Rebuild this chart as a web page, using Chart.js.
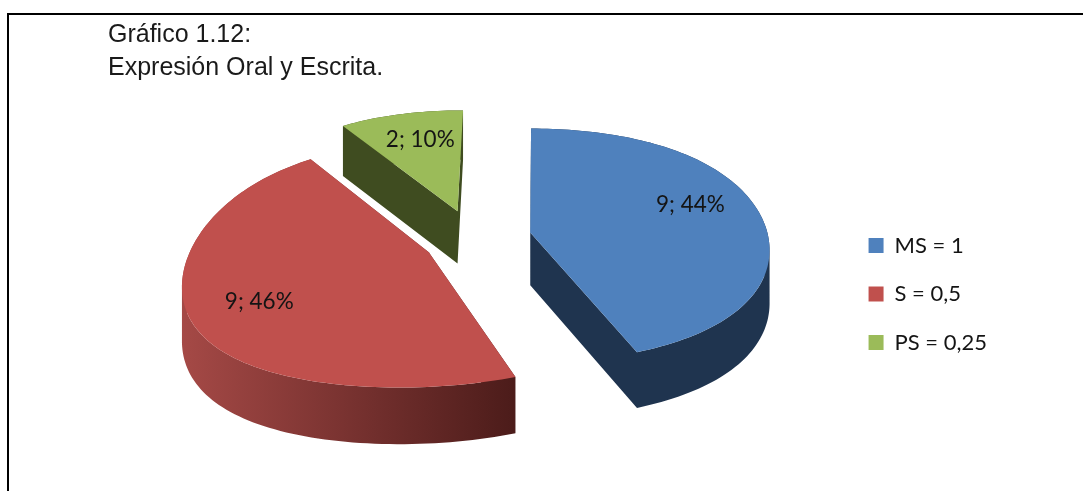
<!DOCTYPE html>
<html lang="es">
<head>
<meta charset="utf-8">
<script src="https://cdn.jsdelivr.net/npm/chart.js@4"></script>
<style>
html,body{margin:0;padding:0;background:#fff;overflow:hidden}
#wrap{position:absolute;left:0;top:0;width:1083px;height:491px}
#frame{position:absolute;left:7px;top:13px;width:1090px;height:490px;border:2.5px solid #000;box-sizing:border-box}
canvas{position:absolute;left:0;top:0}
</style>
</head>
<body>
<div id="wrap">
<div id="frame"></div>
<canvas id="c" width="1083" height="491"></canvas>
</div>
<script>
const categories = ['MS = 1', 'S = 0,5', 'PS = 0,25'];
const seriesValues = [8.75, 9.25, 2];
const titleLines = ['Gráfico 1.12:', 'Expresión Oral y Escrita.'];
const topColors = ['#4f81bd', '#c0504d', '#9bbb59'];
const wallColors = ['#1f344f', null, '#3f4c20'];

const view = {cx: 478, vx: 541, cy: 238, rx: 241, depth: 53, pd: 0.06, explode: 0.225};
const radiusV = [0.95, 0.97, 1];
const radiusU = [0.99, 0.975, 0.93];
const nudgeX = [-1, 0, -6];
const project = (u, v, drop, dx) => {
  const wx = 1 + 0.15 * v - 0.05 * v * v;
  const f = 128 * v - 14 * v * v - 4 * v * v * v;
  return {
    x: view.vx + (view.rx * u + view.cx - view.vx) / wx + (dx || 0),
    y: view.cy - f + (drop ? view.depth / (1 + view.pd * v) : 0)
  };
};

const pie3d = {
  id: 'pie3d',
  beforeDatasetsDraw(chart) {
    const ctx = chart.ctx;
    const meta = chart.getDatasetMeta(0);
    const order = [2, 1, 0];
    const redGrad = ctx.createLinearGradient(182, 0, 514, 0);
    redGrad.addColorStop(0, '#a54946');
    redGrad.addColorStop(0.55, '#74302e');
    redGrad.addColorStop(1, '#4c1c1a');
    order.forEach(i => {
      const arc = meta.data[i];
      const start = arc.startAngle + Math.PI / 2;
      const end = arc.endAngle + Math.PI / 2;
      const mid = (start + end) / 2;
      const ou = view.explode * Math.sin(mid), ov = view.explode * Math.cos(mid);
      const outline = [[ou, ov]];
      const steps = Math.max(8, Math.round((end - start) * 40));
      for (let k = 0; k <= steps; k++) {
        const a = start + (end - start) * k / steps;
        outline.push([ou + radiusU[i] * Math.sin(a), ov + radiusV[i] * Math.cos(a)]);
      }
      ctx.fillStyle = i === 1 ? redGrad : wallColors[i];
      ctx.beginPath();
      for (let k = 0; k < outline.length; k++) {
        const p = outline[k], q = outline[(k + 1) % outline.length];
        let quad = [project(p[0], p[1], false, nudgeX[i]), project(q[0], q[1], false, nudgeX[i]),
                    project(q[0], q[1], true, nudgeX[i]), project(p[0], p[1], true, nudgeX[i])];
        let area = 0;
        quad.forEach((s, n) => {
          const e = quad[(n + 1) % 4];
          area += s.x * e.y - e.x * s.y;
        });
        if (area < 0) quad = quad.reverse();
        quad.forEach((s, n) => n ? ctx.lineTo(s.x, s.y) : ctx.moveTo(s.x, s.y));
        ctx.closePath();
      }
      ctx.fill('nonzero');
      ctx.fillStyle = topColors[i];
      ctx.beginPath();
      outline.forEach((p, k) => {
        const t = project(p[0], p[1], false, nudgeX[i]);
        if (k) ctx.lineTo(t.x, t.y); else ctx.moveTo(t.x, t.y);
      });
      ctx.closePath(); ctx.fill();
    });
    return false;
  },
  afterDraw(chart) {
    const ctx = chart.ctx;
    const total = seriesValues.reduce((s, v) => s + v, 0);
    const spots = [[0.904, 0.27], [-0.81, -0.48], [-0.286, 0.87]];
    ctx.save();
    ctx.font = '22.5px Lato, "Open Sans", sans-serif';
    ctx.fillStyle = '#141414';
    ctx.textAlign = 'center';
    ctx.textBaseline = 'middle';
    seriesValues.forEach((v, i) => {
      const t = project(spots[i][0], spots[i][1], false);
      ctx.fillText(Math.round(v) + '; ' + Math.round(v / total * 100) + '%', t.x, t.y);
    });
    ctx.font = '25px "Liberation Sans", Arial, sans-serif';
    ctx.fillStyle = '#1a1a1a';
    ctx.textAlign = 'left';
    ctx.fillText(titleLines[0], 108, 35);
    ctx.fillText(titleLines[1], 108, 68.5);
    ctx.restore();
  }
};

new Chart(document.getElementById('c'), {
  type: 'pie',
  data: {
    labels: categories,
    datasets: [{data: seriesValues, backgroundColor: topColors, borderWidth: 0}]
  },
  options: {
    responsive: false,
    animation: false,
    rotation: 0,
    layout: {padding: {top: 97, right: 86, left: 0, bottom: 0}},
    plugins: {
      title: {display: false},
      tooltip: {enabled: false},
      legend: {
        position: 'right',
        labels: {
          boxWidth: 15, boxHeight: 15, padding: 26.5,
          color: '#141414',
          font: {family: 'Lato, "Open Sans", sans-serif', size: 22}
        }
      }
    }
  },
  plugins: [pie3d]
});
</script>
</body>
</html>
